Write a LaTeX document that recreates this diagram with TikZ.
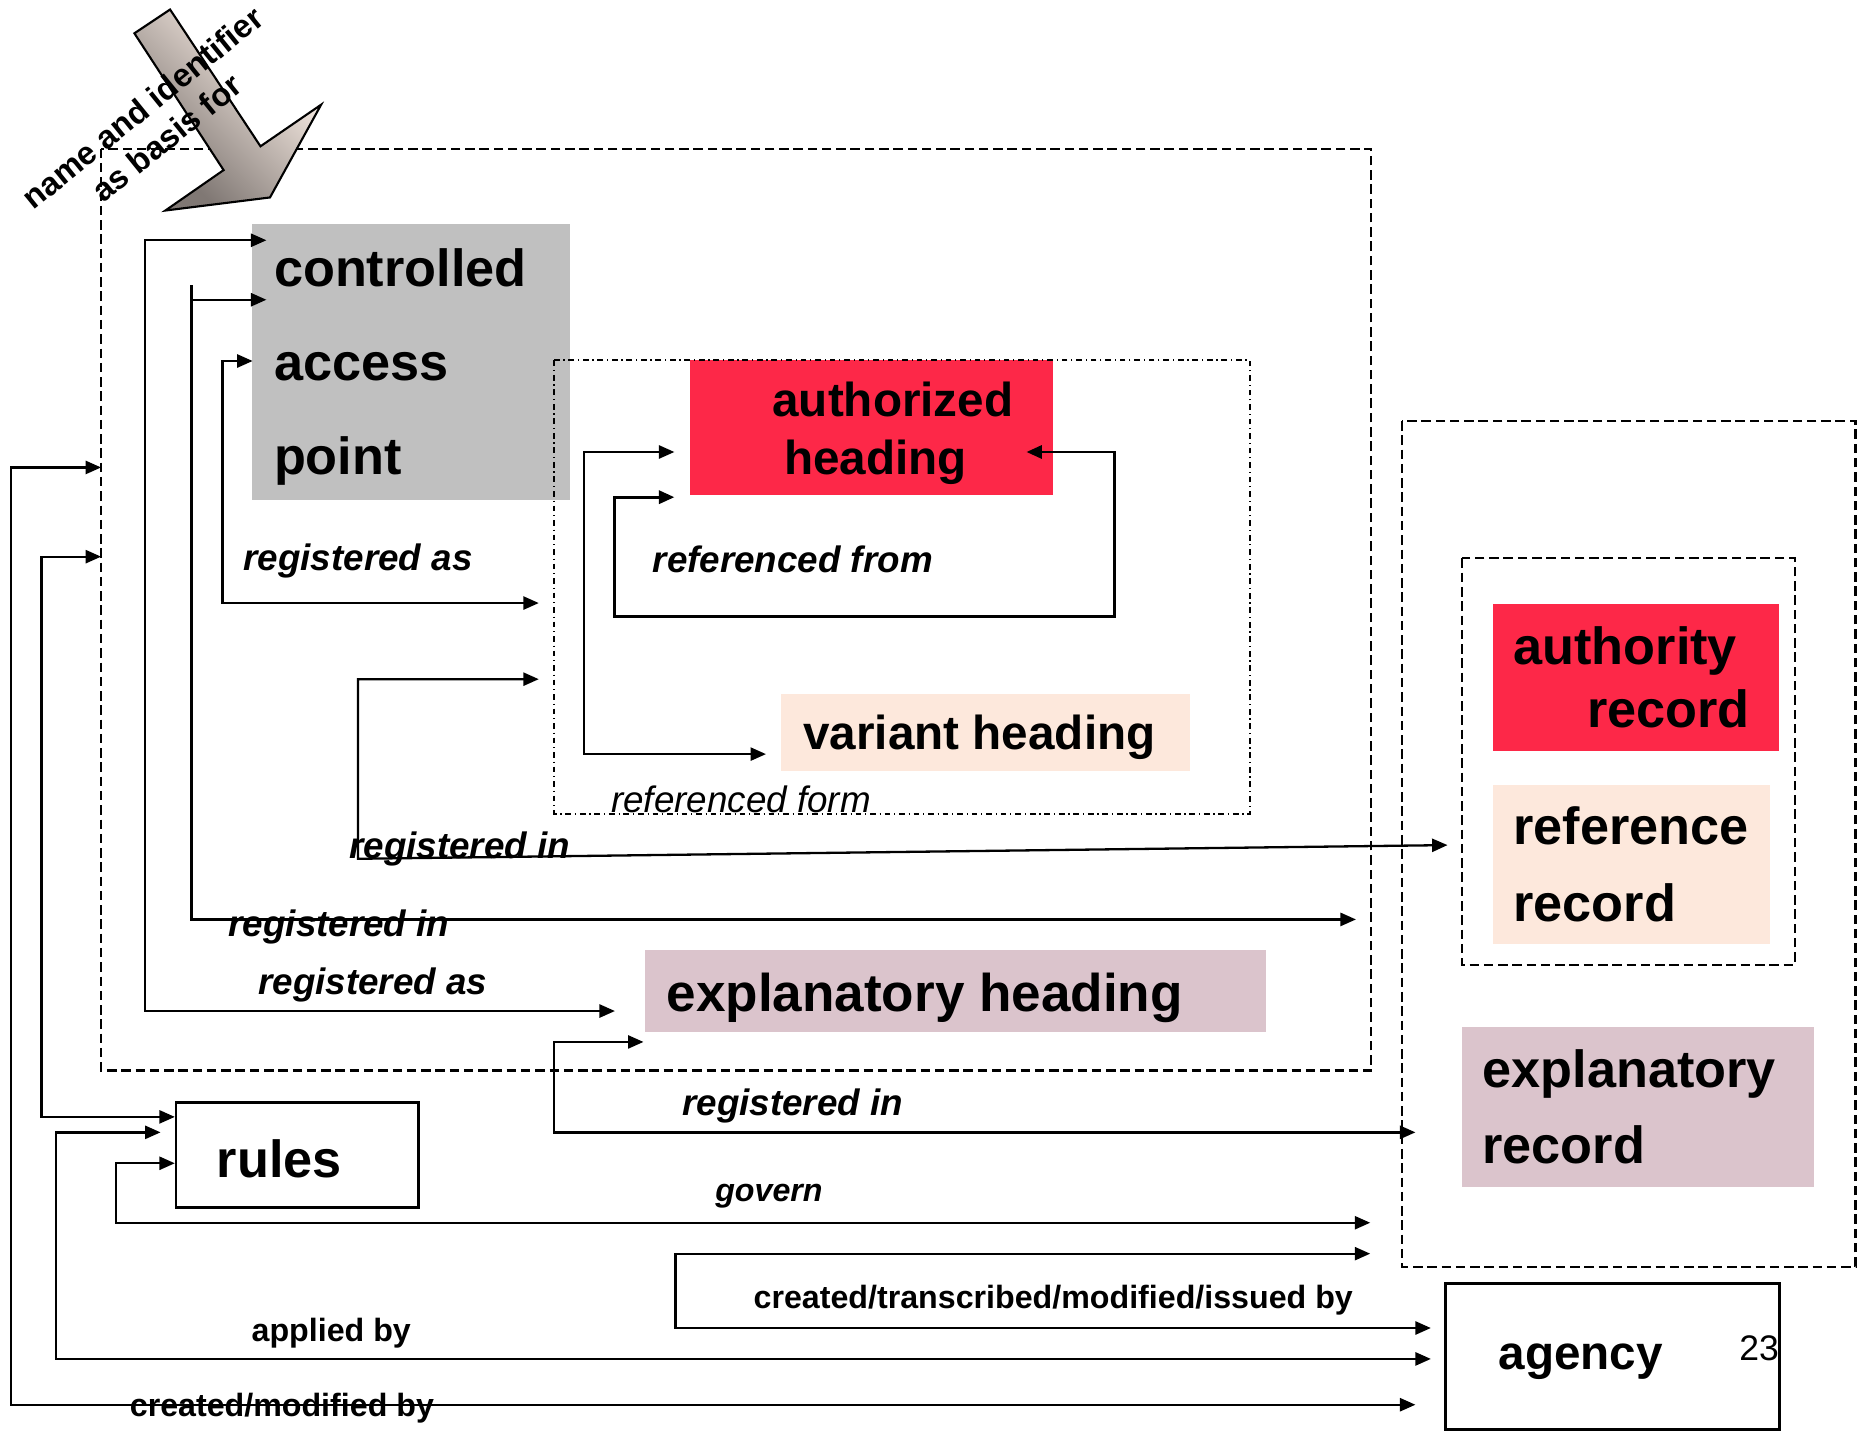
\documentclass[tikz,border=0pt]{standalone}
\usepackage{fontspec}
\setmainfont{Liberation Sans}
\usetikzlibrary{arrows.meta}

\definecolor{capgray}{RGB}{192,192,192}
\definecolor{headred}{RGB}{253,40,72}
\definecolor{peach}{RGB}{253,232,220}
\definecolor{mauve}{RGB}{219,196,204}
\definecolor{arrdark}{RGB}{128,120,116}
\definecolor{arrlight}{RGB}{250,238,230}
\pgfdeclarehorizontalshading{arrowshade}{100bp}{color(0bp)=(arrdark); color(30bp)=(arrdark); color(70bp)=(arrlight); color(100bp)=(arrlight)}

\begin{document}
\begin{tikzpicture}[thick,
		box/.style = {anchor=north west, inner sep=0, outer sep=0},
		term/.style = {anchor=base west, inner sep=0, font=\fontsize{12.5}{15}\selectfont\bfseries},
		sterm/.style = {anchor=base west, inner sep=0, font=\fontsize{11.4}{14}\selectfont\bfseries},
		rel/.style = {anchor=base, inner sep=0, font=\fontsize{8.8}{10}\selectfont\bfseries\itshape},
		note/.style = {anchor=base, inner sep=0, font=\fontsize{7.7}{9}\selectfont\bfseries},
		area/.style = {line width=0.5pt, dash pattern=on 0.8mm off 0.4mm},
		link/.style = {line width=0.55pt, {Triangle[length=1.3mm,width=1.1mm]}-{Triangle[length=1.3mm,width=1.1mm]}},
		half/.style = {line width=0.55pt, -{Triangle[length=1.3mm,width=1.1mm]}}]
		
		\useasboundingbox (0,0) rectangle (15.68,-12.03);
		
		% boxes
		\node[box, fill=capgray, minimum width=2.67cm, minimum height=2.32cm] (cap) at (2.12,-1.88) {};
		\node[box, fill=headred, minimum width=3.05cm, minimum height=1.13cm] (authh) at (5.80,-3.03) {};
		\node[box, fill=peach, minimum width=3.435cm, minimum height=0.645cm] (varh) at (6.57,-5.835) {};
		\node[box, fill=mauve, minimum width=5.22cm, minimum height=0.69cm] (explh) at (5.42,-7.99) {};
		\node[box, fill=headred, minimum width=2.41cm, minimum height=1.23cm] (authrec) at (12.55,-5.08) {};
		\node[box, fill=peach, minimum width=2.33cm, minimum height=1.34cm] (refrec) at (12.55,-6.60) {};
		\node[box, fill=mauve, minimum width=2.96cm, minimum height=1.342cm] (explrec) at (12.29,-8.634) {};
		\node[box, draw, line width=0.6pt, minimum width=2.04cm, minimum height=0.88cm] (rules) at (1.48,-9.27) {};
		\node[box, draw, line width=0.7pt, minimum width=2.805cm, minimum height=1.225cm] (agency) at (12.155,-10.79) {};
		
		% areas
		\draw[area] (0.85,-1.25) rectangle (11.53,-9.00);
		\draw[line width=0.5pt, dash pattern=on 0.48mm off 0.32mm on 0.1mm off 0.32mm] (4.66,-3.03) rectangle (10.51,-6.84);
		\draw[area] (11.79,-3.54) rectangle (15.60,-10.65);
		\draw[area] (12.29,-4.695) rectangle (15.09,-8.11);
		
		% block arrow
		\shadedraw[shading=arrowshade, shading angle=45, line width=0.5pt]
		(1.13,-0.28) -- (1.43,-0.08) -- (2.19,-1.23) -- (2.70,-0.88) -- (2.27,-1.66) -- (1.39,-1.77) -- (1.88,-1.43) -- cycle;
		\node[rotate=39, align=center, inner sep=0, font=\fontsize{7.8}{9.3}\selectfont\bfseries] (basis) at (1.30,-1.03) {name and identifier\\as basis for};
		
		% texts
		\node[term] (t-con) at (2.29,-2.405) {controlled};
		\node[term] (t-acc) at (2.29,-3.20) {access};
		\node[term] (t-poi) at (2.29,-3.99) {point};
		\node[sterm] (t-auth) at (6.48,-3.50) {authorized};
		\node[sterm] (t-head) at (6.58,-3.99) {heading};
		\node[sterm] (t-var) at (6.74,-6.30) {variant heading};
		\node[term, font=\fontsize{12.7}{16}\selectfont\bfseries] (t-expl) at (5.59,-8.50) {explanatory heading};
		\node[term] (t-aut) at (12.71,-5.59) {authority};
		\node[term] (t-rec1) at (13.33,-6.12) {record};
		\node[term] (t-ref) at (12.71,-7.10) {reference};
		\node[term] (t-rec2) at (12.71,-7.745) {record};
		\node[term] (t-exr) at (12.45,-9.145) {explanatory};
		\node[term] (t-rec3) at (12.45,-9.78) {record};
		\node[term] (t-rul) at (1.81,-9.90) {rules};
		\node[sterm] (t-age) at (12.585,-11.51) {agency};
		\node[anchor=base west, inner sep=0, font=\fontsize{8.5}{10}\selectfont] (t-page) at (14.61,-11.435) {23};
		
		% relation labels
		\node[rel] (l-regas1) at (3.01,-4.80) {registered as};
		\node[rel] (l-reffrom) at (6.665,-4.81) {referenced from};
		\node[rel, font=\fontsize{8.8}{10}\selectfont\itshape] (l-refform) at (6.23,-6.835) {referenced form};
		\node[rel] (l-regin1) at (3.865,-7.22) {registered in};
		\node[rel] (l-regin2) at (2.85,-7.87) {registered in};
		\node[rel] (l-regas2) at (3.135,-8.36) {registered as};
		\node[rel] (l-regin3) at (6.665,-9.38) {registered in};
		\node[note, font=\fontsize{7.7}{9}\selectfont\bfseries\itshape] (l-gov) at (6.465,-10.10) {govern};
		\node[note] (l-cti) at (8.855,-11.00) {created/transcribed/modified/issued by};
		\node[note] (l-app) at (2.785,-11.28) {applied by};
		\node[note] (l-cmb) at (2.37,-11.91) {created/modified by};
		
		% connector ends and knees
		\path[shape=coordinate]
		(2.24,-2.02) coordinate(capA) (1.22,-8.50) coordinate(kneeA) (5.17,-8.50) coordinate(explA)
		(1.61,-2.40) coordinate(topB) (1.61,-2.52) coordinate(brB) (2.24,-2.52) coordinate(capB) (11.40,-7.73) coordinate(recB)
		(2.124,-3.035) coordinate(capC) (1.87,-5.07) coordinate(kneeC) (4.53,-5.07) coordinate(formC)
		(4.53,-5.71) coordinate(formD) (3.01,-7.22) coordinate(kneeD) (12.17,-7.105) coordinate(recD)
		(5.67,-3.80) coordinate(authE) (4.91,-6.34) coordinate(kneeE) (6.44,-6.34) coordinate(varE)
		(8.63,-3.80) coordinate(authF) (9.37,-5.185) coordinate(kneeF) (5.17,-5.185) coordinate(kneeF2) (5.67,-4.18) coordinate(authF2)
		(5.41,-8.76) coordinate(explG) (4.66,-9.52) coordinate(kneeG) (11.90,-9.52) coordinate(recG)
		(1.47,-9.78) coordinate(rulH) (0.975,-10.28) coordinate(kneeH) (11.52,-10.28) coordinate(recH)
		(11.52,-10.54) coordinate(recI) (5.68,-11.165) coordinate(kneeI) (12.03,-11.165) coordinate(ageI)
		(1.35,-9.52) coordinate(rulJ) (0.47,-11.425) coordinate(kneeJ) (12.03,-11.425) coordinate(ageJ)
		(0.85,-3.93) coordinate(capK) (0.09,-11.81) coordinate(kneeK) (11.90,-11.81) coordinate(ageK)
		(0.85,-4.68) coordinate(capL) (0.35,-9.39) coordinate(kneeL) (1.47,-9.39) coordinate(rulL);
		
		% connectors
		\draw[link] (capA) -| (kneeA) -- (explA);
		\draw[half] (topB) |- (recB);
		\draw[half] (brB) -- (capB);
		\draw[link] (capC) -| (kneeC) -- (formC);
		\draw[link] (formD) -| (kneeD) -- (recD);
		\draw[link] (authE) -| (kneeE) -- (varE);
		\draw[link, line width=0.7pt] (authF) -| (kneeF) -- (kneeF2) |- (authF2);
		\draw[link] (explG) -| (kneeG) -- (recG);
		\draw[link] (rulH) -| (kneeH) -- (recH);
		\draw[link] (recI) -| (kneeI) -- (ageI);
		\draw[link] (rulJ) -| (kneeJ) -- (ageJ);
		\draw[link] (capK) -| (kneeK) -- (ageK);
		\draw[link] (capL) -| (kneeL) -- (rulL);
	\end{tikzpicture}
\end{document}
